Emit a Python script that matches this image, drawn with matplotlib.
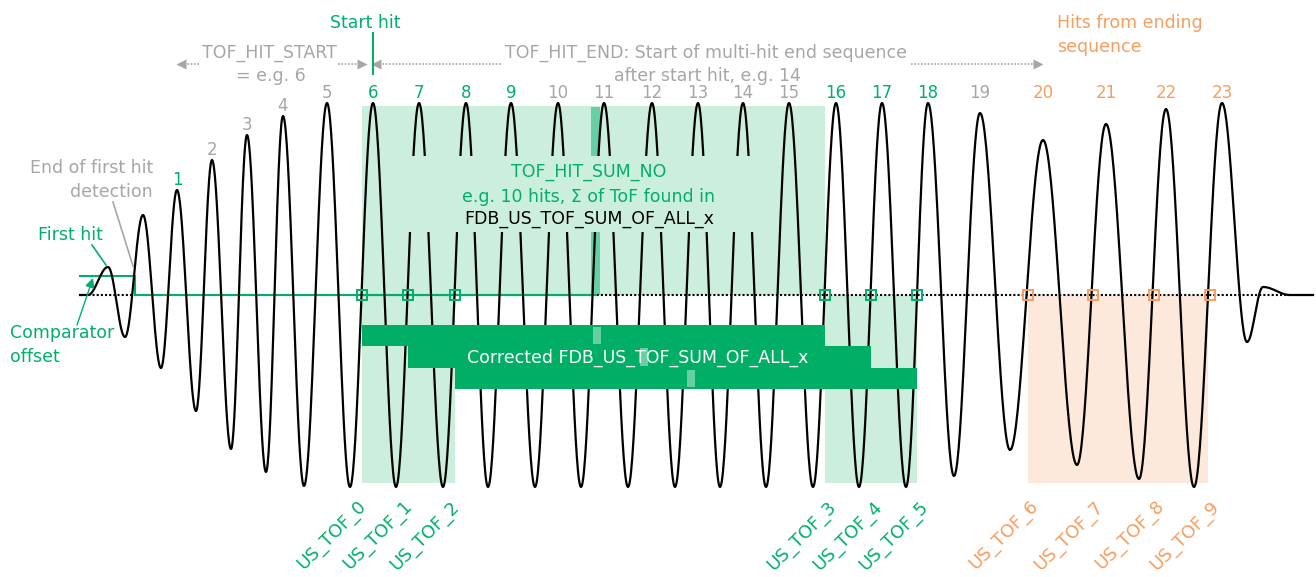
import numpy as np
import matplotlib
matplotlib.use("Agg")
import matplotlib.pyplot as plt
from matplotlib.patches import Rectangle

plt.rcParams["font.family"] = ["DejaVu Sans"]

GREEN = "#00B06A"
BAR_GREEN = "#00AE65"
LIGHT_GREEN = "#CCEEDD"
STRIP_GREEN = "#66CFA3"
ORANGE = "#F79E5E"
LIGHT_ORANGE = "#FCE9DB"
GRAY = "#A6A6A6"

# Received burst as alternating extremes: time and level relative to the zero-cross baseline
extreme_time = [88, 108, 125, 143, 161, 177, 196, 212, 231, 247, 266, 283, 304, 327,
                350, 373, 396, 419, 443, 466, 488, 511, 535, 558, 581, 604, 628, 652,
                675, 698, 720, 743, 766, 789, 813, 836, 859, 882, 906, 928, 954, 980,
                1010, 1043, 1077, 1106, 1139, 1166, 1194, 1222, 1247, 1263, 1290]
extreme_level = [0, 28, -42, 80, -73, 105, -116, 135, -154, 160, -177, 179, -191, 192,
                 -192, 192, -192, 192, -192, 192, -192, 192, -192, 192, -192, 192, -192, 192,
                 -192, 192, -192, 192, -192, 192, -192, 192, -192, 192, -192, 192, -181, 182,
                 -155, 155, -170, 171, -184, 186, -192, 192, -47, 8, 0]

# Numbered hits (peaks) and the role of each one
hit_numbers = list(range(1, 24))
hit_roles = ["first", "pre", "pre", "pre", "pre",
             "tof", "tof", "tof", "tof", "pre", "pre", "pre", "pre", "pre", "pre",
             "tof", "tof", "tof", "pre",
             "end", "end", "end", "end"]
start_hit = 6
sum_strip_hits = [11, 12, 13]

# Hits whose rising zero crossing is stored in the result registers
tof_hits = [6, 7, 8, 16, 17, 18, 20, 21, 22, 23]
tof_names = ["US_TOF_0", "US_TOF_1", "US_TOF_2", "US_TOF_3", "US_TOF_4",
             "US_TOF_5", "US_TOF_6", "US_TOF_7", "US_TOF_8", "US_TOF_9"]

comparator_offset = 19
baseline_start, baseline_end, trace_end = 80, 1290, 1313


def peak_index(hit):
    return 3 + 2 * hit


def rising_crossing(hit):
    i = peak_index(hit)
    t0, l0 = extreme_time[i - 1], extreme_level[i - 1]
    t1, l1 = extreme_time[i], extreme_level[i]
    s = np.arccos((l1 + l0) / (l1 - l0)) / np.pi
    return t0 + (t1 - t0) * s


def half_cosine_trace(times, levels, n=40):
    xs, ys = [baseline_start], [0.0]
    for (t0, l0), (t1, l1) in zip(zip(times[:-1], levels[:-1]), zip(times[1:], levels[1:])):
        s = np.linspace(0, 1, n)
        xs.extend(t0 + (t1 - t0) * s)
        ys.extend(l0 + (l1 - l0) * (1 - np.cos(np.pi * s)) / 2)
    xs.append(trace_end)
    ys.append(0.0)
    return np.array(xs), np.array(ys)


fig = plt.figure(figsize=(13.16, 5.77), dpi=100)
ax = fig.add_axes([0, 0, 1, 1])
ax.set_xlim(0, 1316)
ax.set_ylim(-282, 295)
ax.axis("off")

cross = {h: rising_crossing(h) for h in tof_hits + sum_strip_hits}
c6, c7, c8 = cross[6], cross[7], cross[8]
c16, c17, c18 = cross[16], cross[17], cross[18]
c20, c23 = cross[20], cross[23]

top_box, low_box = 189, -188

# Shaded windows
ax.add_patch(Rectangle((c6, 0), c16 - c6, top_box, fc=LIGHT_GREEN, ec="none", zorder=1))
ax.add_patch(Rectangle((c6, low_box), c8 - c6, -low_box, fc=LIGHT_GREEN, ec="none", zorder=1))
ax.add_patch(Rectangle((c16, low_box), c18 - c16, -low_box, fc=LIGHT_GREEN, ec="none", zorder=1))
ax.add_patch(Rectangle((c20 + 1.5, low_box), c23 - c20 - 1.5, -low_box, fc=LIGHT_ORANGE,
                       ec="none", zorder=1))

strip_w = 8
ax.add_patch(Rectangle((cross[11] - 1.5, 0), strip_w + 1, top_box - 1, fc=STRIP_GREEN,
                       ec="none", zorder=1.5))

# Baselines
ax.plot([baseline_start, baseline_end], [0, 0], color="black", lw=1.5,
        linestyle=(0, (1, 1)), zorder=2)
ax.plot([baseline_start, 135, 135, cross[11] + 3.5], [comparator_offset, comparator_offset, 0, 0],
        color=GREEN, lw=1.5, zorder=2.2)

# Waveform
wx, wy = half_cosine_trace(extreme_time, extreme_level)
ax.plot(wx, wy, color="black", lw=1.6, zorder=3, solid_joinstyle="round")

# Clear area behind the sum description
ax.add_patch(Rectangle((390, 63), 380, 76, fc=LIGHT_GREEN, ec="none", zorder=3.5))

# Hit markers
for h in tof_hits:
    col = ORANGE if h >= 20 else GREEN
    ax.plot(cross[h] + (1.5 if h >= 20 else 0), 0, marker="s", ms=6.5, mfc="none",
            mec=col, mew=1.4, zorder=4)

# Corrected-sum bars, one row per shifted window
rows = [(c6, c16), (c7, c17), (c8, c18)]
row_top, row_h = -30, 21.3
for k, (a, b) in enumerate(rows):
    y0 = row_top - (k + 1) * row_h
    ax.add_patch(Rectangle((a, y0), b - a, row_h, fc=BAR_GREEN, ec="none", zorder=5))
    sx = cross[sum_strip_hits[k]]
    ax.add_patch(Rectangle((sx, y0 + 2), strip_w, row_h - 4, fc=STRIP_GREEN, ec="none", zorder=5.1))

ax.text(638, -68, "Corrected FDB_US_TOF_SUM_OF_ALL_x", color="white", fontsize=12.5,
        ha="center", va="baseline", zorder=6)

# Hit numbers: the first few follow their peak, the rest sit on one row
role_color = {"first": GREEN, "pre": GRAY, "tof": GREEN, "end": ORANGE}
for h, role in zip(hit_numbers, hit_roles):
    i = peak_index(h)
    lvl = extreme_level[i] + 5 if h < 5 else 197
    ax.text(extreme_time[i], lvl, str(h), color=role_color[role], fontsize=12,
            ha="center", va="baseline", zorder=6)

# Register labels along the bottom
for k, (h, name) in enumerate(zip(tof_hits, tof_names)):
    col = ORANGE if h >= 20 else GREEN
    shift = 5 if k < 3 else 12
    ax.text(cross[h] + shift, -212, name, color=col, fontsize=13, rotation=45,
            rotation_mode="anchor", ha="right", va="baseline", zorder=6)

# Description inside the summation window
ax.text(589, 118, "TOF_HIT_SUM_NO", color=GREEN, fontsize=12.5, ha="center", va="baseline", zorder=6)
ax.text(589, 93, "e.g. 10 hits, \u03a3 of ToF found in", color=GREEN, fontsize=12.5,
        ha="center", va="baseline", zorder=6)
ax.text(589, 71, "FDB_US_TOF_SUM_OF_ALL_x", color="black", fontsize=12.5,
        ha="center", va="baseline", zorder=6)

# Start hit marker and range annotations
start_t = extreme_time[peak_index(start_hit)]
ax.plot([start_t, start_t], [221, 262], color=GREEN, lw=1.5, zorder=6)
ax.text(365, 267, "Start hit", color=GREEN, fontsize=12.5, ha="center", va="baseline")

arrow_lvl = 231
dot = dict(color=GRAY, lw=1.2, linestyle=(0, (1, 1)))
ax.plot([184, 200], [arrow_lvl] * 2, **dot)
ax.plot([338, 359], [arrow_lvl] * 2, **dot)
ax.plot(181, arrow_lvl, marker="<", ms=7, color=GRAY, mec="none")
ax.plot(362, arrow_lvl, marker=">", ms=7, color=GRAY, mec="none")
ax.text(269, 237, "TOF_HIT_START", color=GRAY, fontsize=12.5, ha="center", va="baseline")
ax.text(271, 214, "= e.g. 6", color=GRAY, fontsize=12.5, ha="center", va="baseline")

ax.plot([379, 502], [arrow_lvl] * 2, **dot)
ax.plot([911, 1035], [arrow_lvl] * 2, **dot)
ax.plot(376, arrow_lvl, marker="<", ms=7, color=GRAY, mec="none")
ax.plot(1038, arrow_lvl, marker=">", ms=7, color=GRAY, mec="none")
ax.text(706, 237, "TOF_HIT_END: Start of multi-hit end sequence", color=GRAY, fontsize=12.5,
        ha="center", va="baseline")
ax.text(707, 214, "after start hit, e.g. 14", color=GRAY, fontsize=12.5, ha="center", va="baseline")

ax.text(1057, 267, "Hits from ending", color=ORANGE, fontsize=12.5, ha="left", va="baseline")
ax.text(1057, 243, "sequence", color=ORANGE, fontsize=12.5, ha="left", va="baseline")

# Left-hand callouts
ax.text(153, 122, "End of first hit", color=GRAY, fontsize=12.5, ha="right", va="baseline")
ax.text(153, 98, "detection", color=GRAY, fontsize=12.5, ha="right", va="baseline")
ax.plot([113, 133], [93, 29], color=GRAY, lw=1.2)

ax.text(70, 55, "First hit", color=GREEN, fontsize=12.5, ha="center", va="baseline")
ax.plot([92, 106], [50, 30], color=GREEN, lw=1.2)

ax.text(10, -43, "Comparator", color=GREEN, fontsize=12.5, ha="left", va="baseline")
ax.text(10, -67, "offset", color=GREEN, fontsize=12.5, ha="left", va="baseline")
ax.annotate("", xy=(93, 17), xytext=(77, -30),
            arrowprops=dict(arrowstyle="-|>", color=GREEN, lw=1.0, mutation_scale=14,
                            shrinkA=0, shrinkB=0))

fig.savefig("out.png", dpi=100)
